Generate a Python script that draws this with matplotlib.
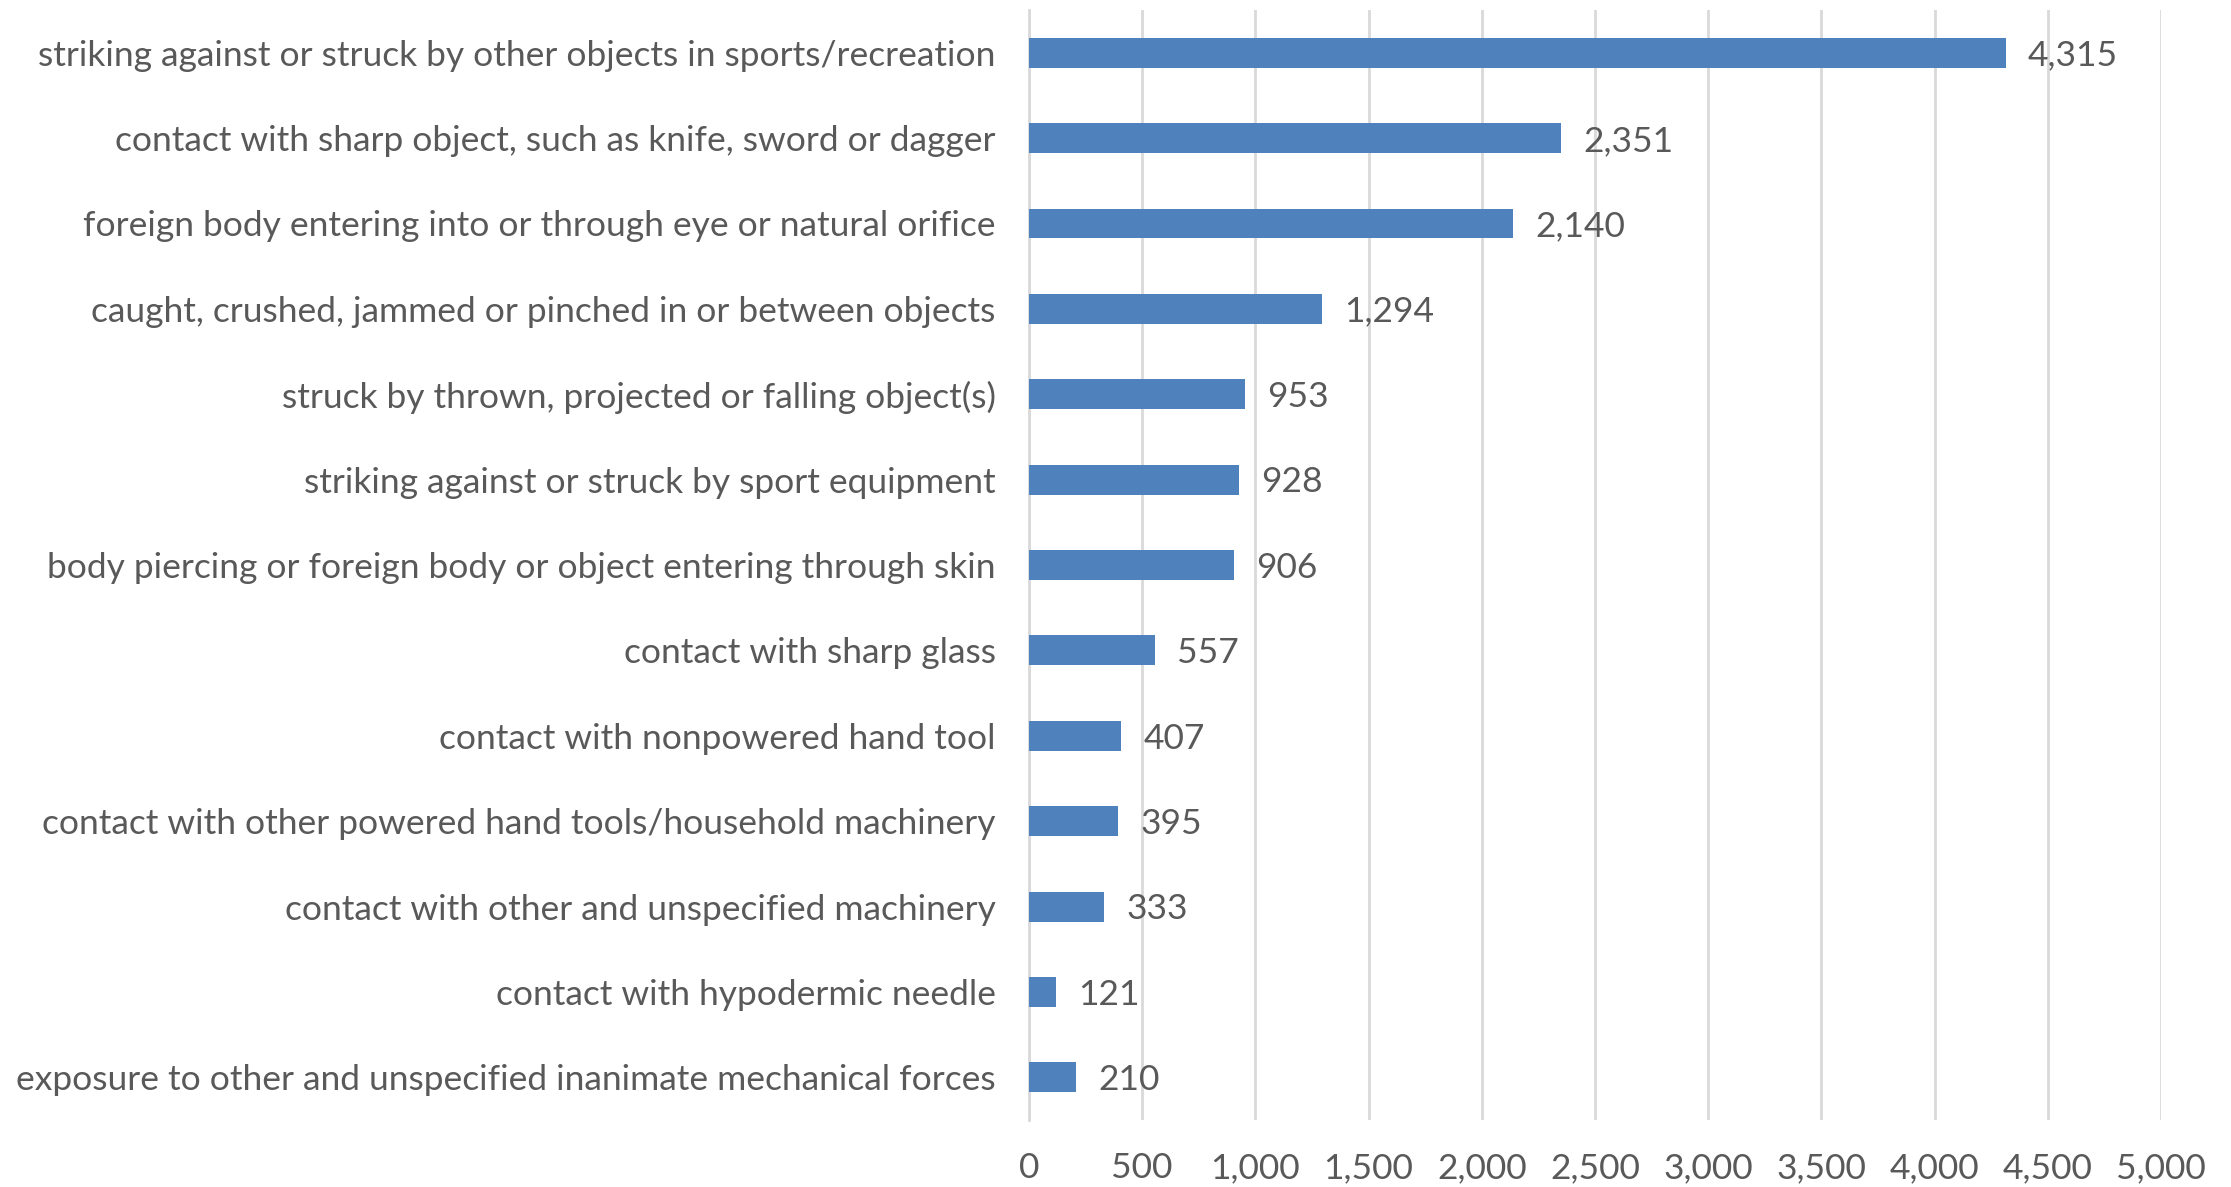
import matplotlib
matplotlib.use("Agg")
import matplotlib.pyplot as plt
from matplotlib.ticker import FuncFormatter, MultipleLocator

categories = [
    "striking against or struck by other objects in sports/recreation",
    "contact with sharp object, such as knife, sword or dagger",
    "foreign body entering into or through eye or natural orifice",
    "caught, crushed, jammed or pinched in or between objects",
    "struck by thrown, projected or falling object(s)",
    "striking against or struck by sport equipment",
    "body piercing or foreign body or object entering through skin",
    "contact with sharp glass",
    "contact with nonpowered hand tool",
    "contact with other powered hand tools/household machinery",
    "contact with other and unspecified machinery",
    "contact with hypodermic needle",
    "exposure to other and unspecified inanimate mechanical forces",
]
values = [4315, 2351, 2140, 1294, 953, 928, 906, 557, 407, 395, 333, 121, 210]

plt.rcParams['font.family'] = ['Lato', 'Open Sans', 'DejaVu Sans']
text_color = "#595959"
bar_color = "#4F81BD"
grid_color = "#D9D9D9"

fig = plt.figure(figsize=(22.31, 11.87), dpi=100)
ax = fig.add_axes([0.4612, 0.0564, 0.5074, 0.9352])

y = list(range(len(categories)))
ax.barh(y, values, height=0.35, color=bar_color, zorder=3)
ax.set_ylim(len(categories) - 0.5, -0.5)
ax.set_xlim(0, 5000)
ax.xaxis.set_major_locator(MultipleLocator(500))
ax.xaxis.set_major_formatter(FuncFormatter(lambda v, p: f"{int(v):,}"))
ax.set_yticks(y)
ax.set_yticklabels(categories)
ax.tick_params(axis='both', length=0, labelsize=25.5, colors=text_color)
ax.tick_params(axis='y', pad=24)
ax.tick_params(axis='x', pad=23)
ax.grid(axis='x', color=grid_color, linewidth=2, zorder=0)
for s in ['top', 'right', 'bottom']:
    ax.spines[s].set_visible(False)
ax.spines['left'].set_color(grid_color)
ax.spines['left'].set_linewidth(2)

for yi, v in zip(y, values):
    ax.annotate(f"{v:,}", (v, yi), xytext=(16, -2), textcoords='offset points',
                va='center', ha='left', fontsize=25.5, color=text_color)

fig.savefig("out.png", dpi=100)
